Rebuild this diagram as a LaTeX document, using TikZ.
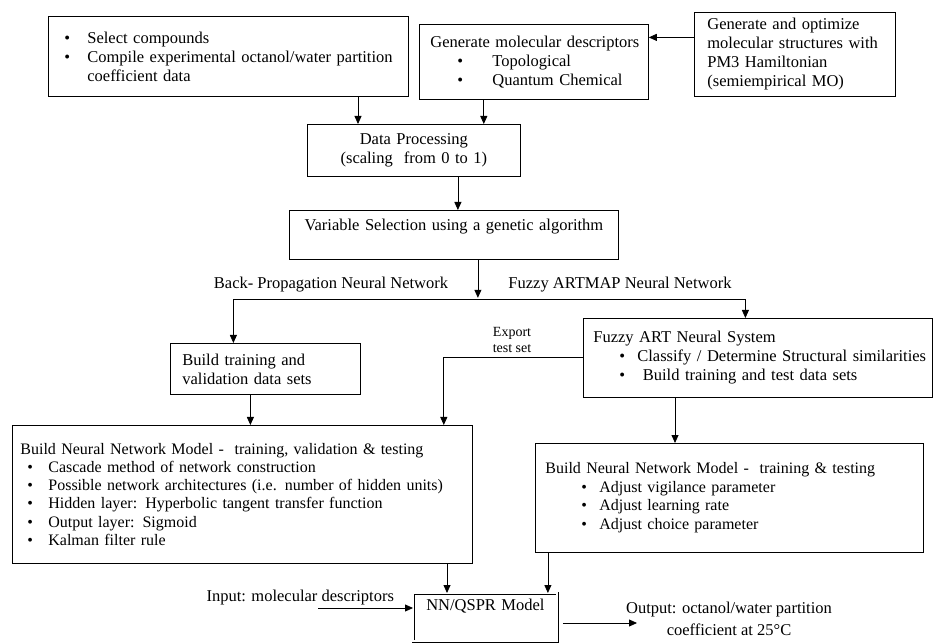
\documentclass[tikz,border=0pt]{standalone}
\usepackage{fontspec}
\setmainfont{Liberation Serif}
\usetikzlibrary{arrows.meta}
\newcommand{\bpt}[2]{\hspace*{#1}\makebox[#2][l]{\textbullet}}

\begin{document}
\begin{tikzpicture}[x=1pt,y=-1pt] % NN/QSPR flow chart
\tikzstyle{every node}+=[font=\fontsize{16.5}{19}\selectfont]
\tikzstyle{box}=[draw,line width=0.8pt,anchor=north west,inner ysep=0pt,align=left]
\tikzstyle{arr}=[line width=0.8pt,-{Triangle[length=8pt,width=7pt]}]
\useasboundingbox (0,0) rectangle (935,644);
\node [box,inner xsep=8pt,text width=344pt,minimum height=80pt] (sel) at (48,16)
  {\bpt{8pt}{23pt}Select compounds\\
   \bpt{8pt}{23pt}Compile experimental octanol/water partition\\
   \hspace*{31pt}coefficient data};
\node [box,inner xsep=11pt,text width=207pt,minimum height=75pt] (desc) at (419,24)
  {\mbox{Generate molecular descriptors}\\
   \bpt{27pt}{35pt}Topological\\
   \bpt{27pt}{35pt}Quantum Chemical};
\node [box,inner xsep=13pt,text width=175pt,minimum height=84pt] (opt) at (694,12)
  {Generate and optimize\\molecular structures with\\PM3 Hamiltonian\\(semiempirical MO)};
\node [box,align=center,inner xsep=8pt,text width=197pt,minimum height=52pt] (dp) at (307,124)
  {Data Processing\\(scaling\ \ from 0 to 1)};
\node [box,align=center,inner xsep=8pt,text width=313pt,minimum height=49pt,text depth=20.5pt] (vs) at (289,210)
  {Variable Selection using a genetic algorithm};
\node [box,inner xsep=12pt,text width=166pt,minimum height=51pt] (bt) at (170,343)
  {Build training and\\validation data sets};
\node [box,inner xsep=6pt,text width=337pt,minimum height=79pt] (fa) at (583,318)
  {\hspace*{4pt}Fuzzy ART Neural System\\
   \bpt{30pt}{18pt}Classify / Determine Structural similarities\\
   \bpt{30pt}{18pt}\ Build training and test data sets};
\node [box,inner xsep=8pt,text width=444pt,minimum height=138pt,font=\fontsize{16}{18.2}\selectfont] (bnn) at (12,425)
  {Build Neural Network Model -\ \ training, validation \& testing\\
   \bpt{7pt}{21pt}Cascade method of network construction\\
   \bpt{7pt}{21pt}Possible network architectures (i.e. number of hidden units)\\
   \bpt{7pt}{21pt}Hidden layer: Hyperbolic tangent transfer function\\
   \bpt{7pt}{21pt}Output layer: Sigmoid\\
   \bpt{7pt}{21pt}Kalman filter rule};
\node [box,inner xsep=10pt,text width=368pt,minimum height=109pt,font=\fontsize{16}{18.5}\selectfont] (fam) at (535,443)
  {Build Neural Network Model -\ \ training \& testing\\
   \bpt{36pt}{18pt}Adjust vigilance parameter\\
   \bpt{36pt}{18pt}Adjust learning rate\\
   \bpt{36pt}{18pt}Adjust choice parameter\\[8pt]};
\node [box,align=center,double,line width=0.9pt,double distance=2pt,inner xsep=6pt,text width=132pt,minimum height=48pt,text depth=25.5pt] (nnq) at (413,593)
  {NN/QSPR Model};
\node (bplab) at (331,285) {Back- Propagation Neural Network};
\node (falab) at (620,285) {Fuzzy ARTMAP Neural Network};
\node [font=\fontsize{14}{16}\selectfont,align=center,anchor=south] (exlab) at (512,356) {Export\\test set};
\node [anchor=base west] (inlab) at (203,601) {Input: molecular descriptors};
\node [align=center,font=\fontsize{16.5}{22}\selectfont] (outlab) at (729,619)
  {Output: octanol/water partition\\coefficient at 25°C};
\coordinate (fork) at ([yshift=-40pt]vs.south);
\coordinate (bpin) at ([xshift=-32pt]bt.north);
\coordinate (fain) at ([xshift=-12.5pt]fa.north);
\coordinate (infree) at (318,608);
\coordinate (outend) at (637,623);
\draw [arr] ([yshift=17pt]opt.west) -- ([yshift=17pt]opt.west -| desc.east);
\draw [arr] ([xshift=51pt]dp.north west |- sel.south) -- ([xshift=51pt]dp.north west);
\draw [arr] ([xshift=-37pt]dp.north east |- desc.south) -- ([xshift=-37pt]dp.north east);
\draw [arr] ([xshift=4pt]vs.north |- dp.south) -- ([xshift=4pt]vs.north);
\draw [arr] ([xshift=24pt]vs.south) -- ([xshift=24pt,yshift=2pt]fork);
\draw [arr] (bpin |- fork) -- (fain |- fork) -- (fain);
\draw [arr] (bpin |- fork) -- (bpin);
\draw [arr] (fa.west) -| ([xshift=-29pt]bnn.north east);
\draw [arr] ([xshift=-15pt]bt.south) -- ([xshift=-15pt]bt.south |- bnn.north);
\draw [arr] ([xshift=92pt]fa.south west) -- ([xshift=92pt]fa.south west |- fam.north);
\draw [arr] ([xshift=34pt]nnq.north west |- bnn.south) -- ([xshift=34pt]nnq.north west);
\draw [arr] ([xshift=-10pt]nnq.north east |- fam.south) -- ([xshift=-10pt]nnq.north east);
\draw [arr] (infree) -- (infree -| nnq.west);
\draw [arr] ([xshift=5pt]nnq.east |- outend) -- (outend);
\end{tikzpicture}
\end{document}
